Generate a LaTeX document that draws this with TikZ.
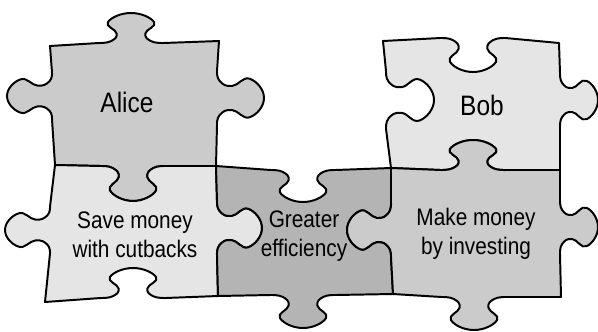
\documentclass[tikz,border=0pt]{standalone}
\usepackage{fontspec}
\setsansfont{Liberation Sans}[FakeStretch=0.87]

\definecolor{paleGray}{HTML}{E5E5E5}
\definecolor{midGray}{HTML}{CBCBCB}
\definecolor{darkGray}{HTML}{B4B4B4}

% knob on a horizontal edge: {x centre}{edge y}{depth}{half width, signed by direction}
\newcommand{\hknob}[4]{%
	-- plot[smooth, tension=0.8] coordinates {
		({#1-1.8*(#4)},{#2})
		({#1-1.12*(#4)},{#2+0.06*(#3)})
		({#1-0.8*(#4)},{#2+0.32*(#3)})
		({#1-1.28*(#4)},{#2+0.7*(#3)})
		({#1},{#2+(#3)})
		({#1+1.28*(#4)},{#2+0.7*(#3)})
		({#1+0.8*(#4)},{#2+0.32*(#3)})
		({#1+1.12*(#4)},{#2+0.06*(#3)})
		({#1+1.8*(#4)},{#2})}}
% knob on a vertical edge: {y centre}{edge x}{depth}{half width, signed by direction}
\newcommand{\vknob}[4]{%
	-- plot[smooth, tension=0.8] coordinates {
		({#2},{#1-1.8*(#4)})
		({#2+0.06*(#3)},{#1-1.12*(#4)})
		({#2+0.32*(#3)},{#1-0.8*(#4)})
		({#2+0.7*(#3)},{#1-1.28*(#4)})
		({#2+(#3)},{#1})
		({#2+0.7*(#3)},{#1+1.28*(#4)})
		({#2+0.32*(#3)},{#1+0.8*(#4)})
		({#2+0.06*(#3)},{#1+1.12*(#4)})
		({#2},{#1+1.8*(#4)})}}

\tikzset{
	piece/.style = {draw=black, line width=1.4pt, line join=round},
	bigname/.style = {font=\sffamily\fontsize{20}{24}\selectfont},
	tag/.style = {font=\sffamily\fontsize{17}{20.6}\selectfont, align=center}
}

\begin{document}
\begin{tikzpicture}[x=0.025cm, y=-0.025cm]
	\useasboundingbox (0,0) rectangle (598,331);

	% top row
	\draw[piece, fill=midGray] (50,46) \hknob{131}{43}{-30}{18} -- (219,41)
		\vknob{98}{217}{47}{15} -- (216,166) \hknob{133}{166}{35}{-18} -- (55,165)
		\vknob{96}{52}{-45}{-13} -- cycle;
	\draw[piece, fill=paleGray] (383,41) \hknob{473}{38}{34}{18} -- (559,43)
		\vknob{100}{560}{38}{15} -- (560,170) \hknob{473}{170}{-30}{-18} -- (391,168)
		\vknob{100}{386}{48}{-16} -- cycle;

	% bottom row
	\draw[piece, fill=paleGray] (55,165) \hknob{133}{166}{35}{18} -- (216,166)
		\vknob{228}{217}{45}{15} -- (218,296) \hknob{133}{298}{-30}{-18} -- (45,302)
		\vknob{230}{50}{-45}{-13} -- cycle;
	\draw[piece, fill=darkGray] (216,166) \hknob{303}{170}{32}{18} -- (391,168)
		\vknob{230}{391}{-44}{15} -- (393,294) \hknob{303}{295}{33}{-18} -- (218,296)
		\vknob{228}{217}{45}{-15} -- cycle;
	\draw[piece, fill=midGray] (391,168) \hknob{473}{170}{-30}{18} -- (560,170)
		\vknob{227}{560}{38}{15} -- (561,297) \hknob{474}{297}{33}{-18} -- (393,294)
		\vknob{230}{391}{-44}{-15} -- cycle;

	\node[bigname] (alice) at (127,102) {Alice};
	\node[bigname] (bob) at (482,105) {Bob};
	\node[tag] (save) at (135,235) {Save money\\with cutbacks};
	\node[tag] (greater) at (304,236) {Greater\\efficiency};
	\node[tag] (make) at (476,234) {Make money\\by investing};
\end{tikzpicture}
\end{document}
